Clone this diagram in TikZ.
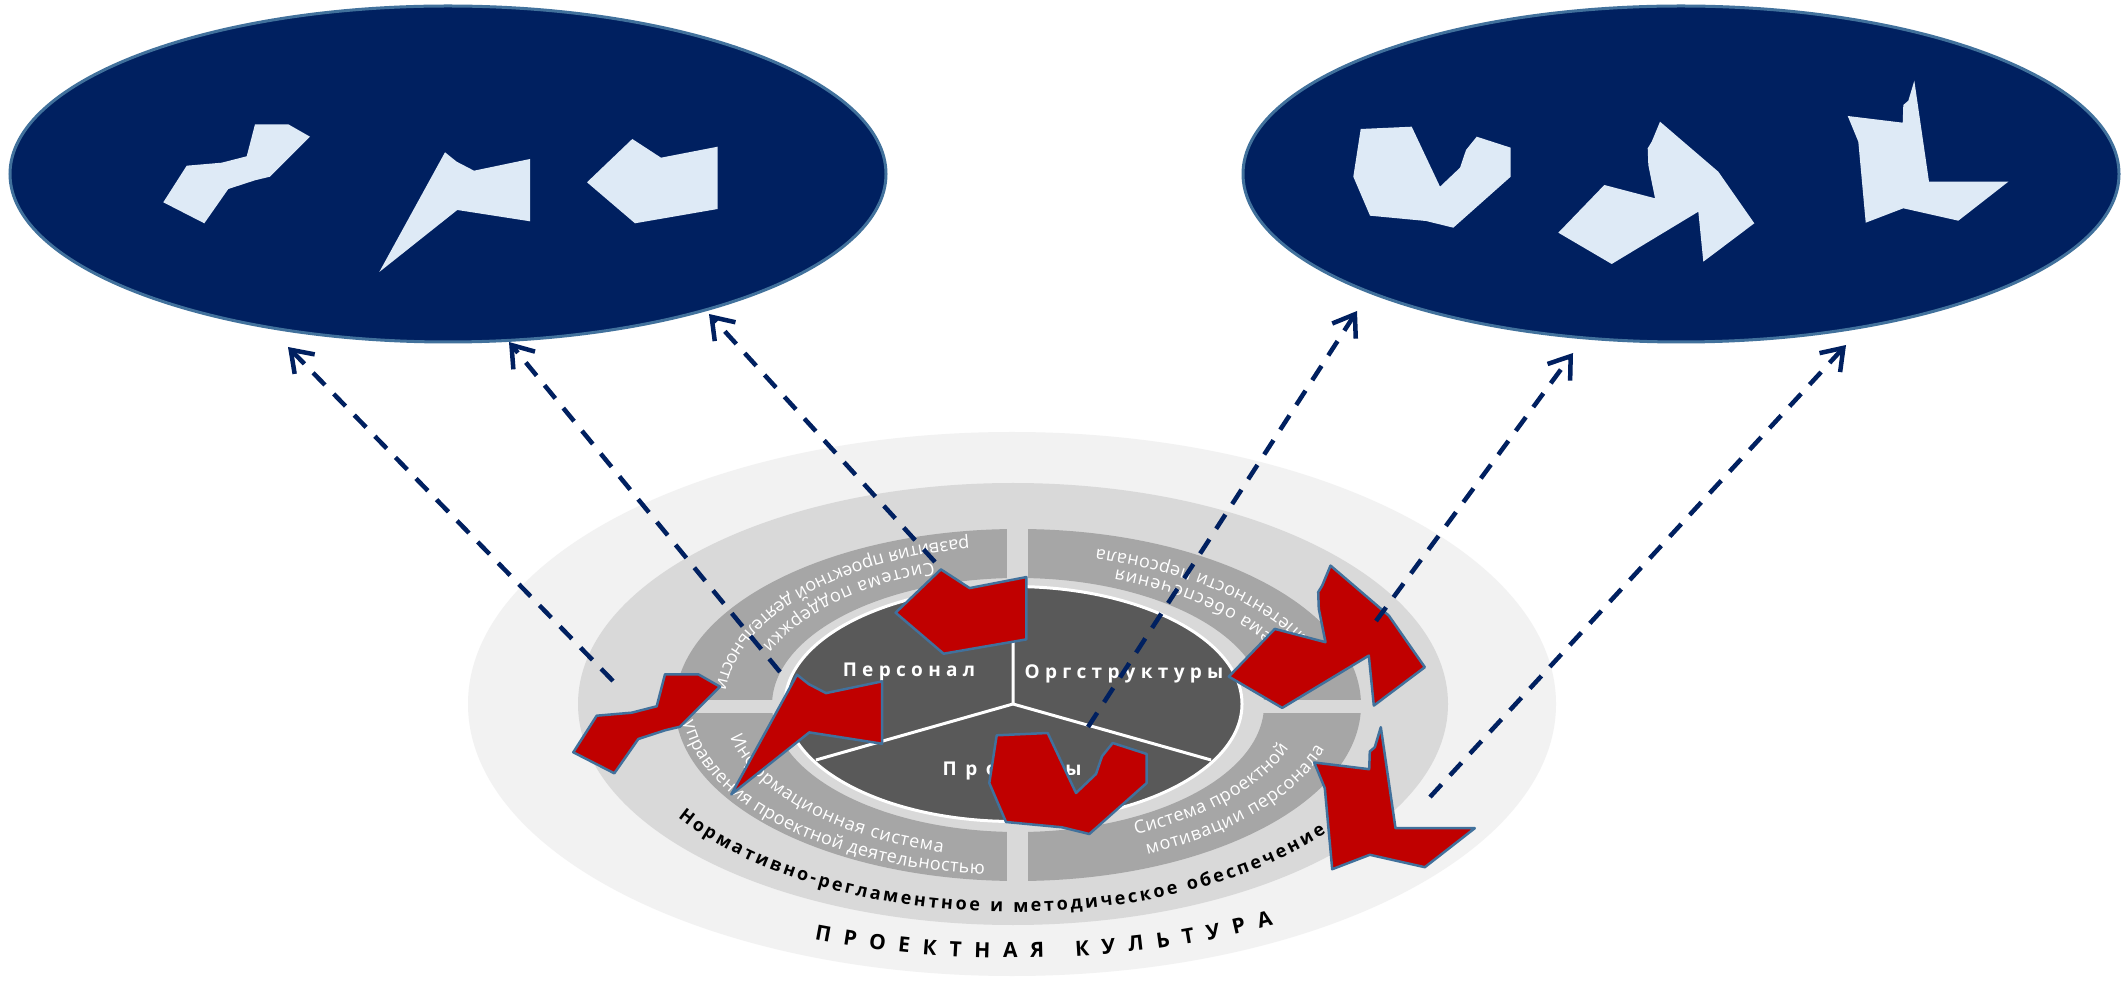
\documentclass[tikz,border=0pt]{standalone}
\usepackage{fontspec}
\setmainfont{Open Sans}
\usetikzlibrary{arrows.meta,decorations.text}

\definecolor{navy}{HTML}{002060}
\definecolor{rimblue}{HTML}{41719C}
\definecolor{paleblue}{HTML}{DEEAF6}
\definecolor{deepred}{HTML}{C00000}
\definecolor{gA}{HTML}{F2F2F2}
\definecolor{gB}{HTML}{D9D9D9}
\definecolor{gC}{HTML}{A6A6A6}
\definecolor{gD}{HTML}{595959}

\newcommand\hubfont{\fontsize{19}{22}\selectfont\bfseries\addfontfeatures{LetterSpace=28}}
\newcommand\ringtxt{\fontsize{18}{21}\selectfont}
\newcommand\basetxt{\fontsize{18}{21}\selectfont\bfseries}
\newcommand\culttxt{\fontsize{21}{25}\selectfont\bfseries}

\tikzset{
  lightpiece/.style={fill=paleblue},
  redpiece/.style={fill=deepred, draw=rimblue, line width=2.5pt, line join=round},
  hub/.style={text=white, font=\hubfont, inner sep=0pt},
  link/.style={navy, line width=4.5pt, dash pattern=on 17pt off 12.5pt,
    -{Straight Barb[length=20pt,width=28pt,line width=4.5pt]}},
  arctext/.style={decorate, decoration={text along path, text={#1},
    text align=fit to path}},
  pieceA/.pic={\path[pic actions] (255,858.7) -- (288.3,858.7) -- (310,846.3) -- (270,806.3)
    -- (255,802.7) -- (228.3,794) -- (204.3,759.7) -- (163.3,780.7) -- (186.7,817.3)
    -- (221.7,820.3) -- (246.7,826.7) -- cycle;},
  pieceB/.pic={\path[pic actions] (445,830.7) -- (456.7,821.3) -- (474,812.3) -- (530,824)
    -- (530,761.7) -- (457.3,773) -- (379.3,711) -- cycle;},
  pieceC/.pic={\path[pic actions] (632.3,844) -- (661,825.3) -- (717.7,836.3) -- (717.7,774)
    -- (635,759.7) -- (587,800.7) -- cycle;},
  pieceD/.pic={\path[pic actions] (1360.7,854) -- (1411.7,856.3) -- (1440,796.3) -- (1460,815.3)
    -- (1466,833) -- (1476.7,846.3) -- (1510.7,835.3) -- (1510.7,806.3) -- (1453.3,755.3)
    -- (1426,762) -- (1370,767.3) -- (1353.3,806.3) -- cycle;},
  pieceE/.pic={\path[pic actions] (1660,861.3) -- (1651.7,841.3) -- (1647.7,834.7) -- (1648.3,818)
    -- (1655,784.7) -- (1604.3,798) -- (1558.3,750.3) -- (1611.7,719) -- (1698.3,771.3)
    -- (1703.3,721.3) -- (1754.3,759.7) -- (1718.3,811.3) -- cycle;},
  pieceF/.pic={\path[pic actions] (1914.3,902.3) -- (1908.3,882.3) -- (1903.3,878) -- (1902.7,860.3)
    -- (1847.7,867) -- (1858.3,841.3) -- (1865.7,760.3) -- (1903.3,774.7) -- (1958.3,762.3)
    -- (2008.3,801.3) -- (1929,801.3) -- cycle;}
}

\begin{document}
\begin{tikzpicture}[x=1pt,y=1pt]
% canvas
\fill[white] (0,0) rectangle (2122,983);
\useasboundingbox (0,0) rectangle (2122,983);

% two upper ellipses
\draw[fill=navy, draw=rimblue, line width=3pt] (448,809) ellipse[x radius=438, y radius=168];
\draw[fill=navy, draw=rimblue, line width=3pt] (1681,809) ellipse[x radius=438, y radius=168];

% pale pieces inside the ellipses
\pic[lightpiece] (lA) {pieceA};
\pic[lightpiece] (lB) {pieceB};
\pic[lightpiece] (lC) {pieceC};
\pic[lightpiece] (lD) {pieceD};
\pic[lightpiece] (lE) {pieceE};
\pic[lightpiece] (lF) {pieceF};

% layered base discs
\fill[gA] (1012,279) ellipse[x radius=544, y radius=272];
\fill[gB] (1013,279) ellipse[x radius=435, y radius=221];
\fill[gC, even odd rule] (1018,278) ellipse[x radius=343, y radius=176]
                         (1018,278) ellipse[x radius=246, y radius=127];
% gaps between the four quadrants
\fill[gB] (1006.5,95) rectangle (1028,462);
\fill[gB] (665,270) rectangle (1372,283);

% dark core with three sectors
\draw[fill=gD, draw=white, line width=3pt] (1013.5,279) ellipse[x radius=228.5, y radius=117.5];
\coordinate (core) at (1013,279);
\coordinate (coreN) at (1013,396);
\coordinate (coreSW) at (816,223);
\coordinate (coreSE) at (1211,223);
\draw[white, line width=3pt] (core) -- (coreN) (core) -- (coreSW) (core) -- (coreSE);

\node[hub] (pers) at (909,311) {Персонал};
\node[hub] (org) at (1124,309) {Оргструктуры};
\node[hub] (proj) at (1012,212) {\addfontfeatures{LetterSpace=45}Проекты};

% curved ring captions
\begin{scope}[shift={(1013,279)}]
\path[arctext={|\ringtxt|Система поддержки}, decoration={text color=white}]
  (107:272 and 148) arc[start angle=107, end angle=157, x radius=272, y radius=148];
\path[arctext={|\ringtxt|развития проектной деятельности}, decoration={text color=white}]
  (98.5:298 and 167) arc[start angle=98.5, end angle=174.5, x radius=298, y radius=167];
\path[arctext={|\ringtxt|Система обеспечения}, decoration={text color=white}]
  (13:295 and 143) arc[start angle=13, end angle=69.6, x radius=295, y radius=143];
\path[arctext={|\ringtxt|компетентности персонала}, decoration={text color=white}]
  (17:323 and 160) arc[start angle=17, end angle=75, x radius=323, y radius=160];
\path[arctext={|\ringtxt|Информационная система}, decoration={text color=white}]
  (192.6:290 and 153) arc[start angle=192.6, end angle=256, x radius=290, y radius=153];
\path[arctext={|\ringtxt|управления проектной деятельностью}, decoration={text color=white}]
  (186:331 and 171) arc[start angle=186, end angle=265, x radius=331, y radius=171];
\path[arctext={|\ringtxt|Система проектной}, decoration={text color=white}]
  (295:290 and 143.5) arc[start angle=295, end angle=342, x radius=290, y radius=143.5];
\path[arctext={|\ringtxt|мотивации персонала}, decoration={text color=white}]
  (294.5:324 and 165) arc[start angle=294.5, end angle=344, x radius=324, y radius=165];
\path[arctext={|\basetxt|Нормативно-регламентное и методическое обеспечение}, decoration={text color=black}]
  (212.9:399 and 208) arc[start angle=212.9, end angle=321.7, x radius=399, y radius=208];
\path[arctext={|\culttxt|ПРОЕКТНАЯ КУЛЬТУРА}, decoration={text color=black}]
  (248:530 and 254) arc[start angle=248, end angle=299.4, x radius=530, y radius=254];
\end{scope}

% red pieces on the disc
\pic[redpiece] (rA) at (410,-550) {pieceA};
\pic[redpiece] (rB) at (352,-522.4) {pieceB};
\pic[redpiece] (rC) at (308.6,-430.4) {pieceC};
\pic[redpiece] (rD) at (-364,-606.3) {pieceD};
\pic[redpiece] (rE) at (-329.5,-443.9) {pieceE};
\pic[redpiece] (rF) at (-533.5,-646.5) {pieceF};

% dashed links up to the ellipses
\coordinate (s1) at (613,302);  \coordinate (t1) at (288,636);
\coordinate (s2) at (780,311);  \coordinate (t2) at (509,641);
\coordinate (s3) at (935,421);  \coordinate (t3) at (709,669);
\coordinate (s4) at (1088,256); \coordinate (t4) at (1357,672);
\coordinate (s5) at (1376,362); \coordinate (t5) at (1573,630);
\coordinate (s6) at (1430,186); \coordinate (t6) at (1846,638);
\foreach \i in {1,...,6} { \draw[link] (s\i) -- (t\i); }
\end{tikzpicture}
\end{document}
